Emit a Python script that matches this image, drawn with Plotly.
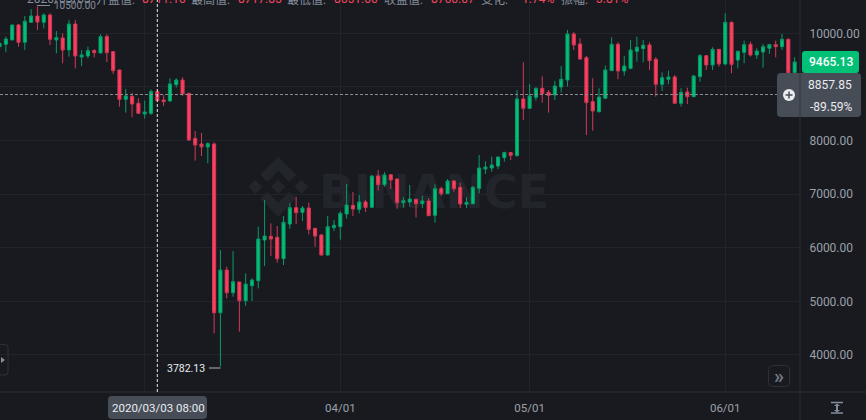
import pandas as pd
import plotly.graph_objects as go

W, H = 866, 420
dates = pd.date_range("2020-02-07", "2020-06-12", freq="D")

opens = [9751,9795,9876,10155,9832,10205,10323,10205,10342,9876,9913,9689,10174,9558,9577,9677,9633,9938,9658,9316,8768,8824,8694,
 8495,8507,8912,8756,8737,9042,9129,8880,8040,7935,7880,7935,4787,5583,5160,5360,5011,5291,5384,6143,6212,6193,5795,6442,6747,6660,6740,6361,6237,5864,6374,
 6392,6629,6790,6716,6852,6753,7338,7176,7362,7282,6840,6852,6902,6821,6871,6604,7101,7008,7244,7126,6809,6821,7107,7468,7487,7524,7680,7773,7717,8775,
 8600,8806,8974,8899,8849,8999,9129,9988,9801,9546,8725,8538,8787,9303,9795,9297,9347,9664,9714,9782,9515,9048,9142,9185,8694,8905,8818,9191,9583,9409,9701,
 9428,10205,9502,9645,9795,9596,9652,9720,9788,9751,9888,9264]
highs = [9830,9938,10160,10174,10323,10448,10500,10373,10373,10044,10000,10249,10249,9689,9751,9701,9981,9981,9670,9320,8961,8893,8787,
 8744,8955,8955,8849,9160,9160,9179,8890,8177,8140,7966,7966,5957,5646,5938,5365,5521,5428,6392,6890,6454,6405,6591,6828,6952,6778,6840,6365,6255,6591,6517,
 6680,7188,7039,6983,6890,7350,7450,7412,7369,7288,6940,7170,6908,6971,6921,7182,7138,7281,7263,7213,6940,7151,7730,7611,7698,7698,7785,7785,8943,9459,
 9055,8992,9198,8943,9111,9390,10062,10025,9907,9577,9160,8974,9397,9925,9832,9577,9876,9938,9876,9832,9552,9272,9303,9223,8974,8986,9223,9614,9596,9739,9707,
 10373,10218,9676,9863,9845,9720,9801,9801,9863,9988,9903,9552]
lows = [9700,9646,9870,9751,9689,10200,10062,10093,9782,9627,9440,9565,9347,9390,9534,9552,9627,9465,9241,8632,8520,8433,8495,
 8408,8476,8725,8644,8725,8986,8831,7990,7624,7711,7574,4402,3782.13,5055,5086,4433,4918,5005,5241,5658,5845,5720,5677,6355,6442,6498,6249,6019,5851,5845,6311,
 6150,6541,6591,6641,6666,6747,7064,7139,7095,6728,6747,6765,6566,6740,6591,6467,6965,7002,7045,6740,6740,6809,7014,7375,7418,7468,7605,7636,7698,8383,
 8600,8744,8706,8520,8756,8893,9005,9689,9502,8103,8184,8520,8775,9303,9142,9210,9328,9471,9459,9316,8818,8924,9048,8694,8632,8681,8806,9098,9316,9316,9378,
 9403,9254,9347,9440,9565,9521,9359,9614,9552,9689,9086,9240]
closes = [9813,9894,10155,9832,10224,10323,10211,10342,9888,9919,9689,10174,9577,9596,9677,9639,9938,9639,9303,8768,8831,8681,8507,
 8532,8912,8744,8725,9055,9129,8868,8010,7916,7882,7941,4787,5583,5160,5366,5011,5322,5397,6162,6218,6162,5795,6473,6747,6653,6740,6342,6218,5864,6392,6417,
 6641,6796,6722,6852,6753,7338,7176,7356,7263,6840,6877,6908,6821,6871,6597,7101,7008,7244,7101,6815,6846,7126,7487,7506,7543,7692,7779,7723,8775,8600,
 8831,8974,8874,8843,9017,9142,9988,9782,9521,8706,8551,8812,9316,9795,9297,9390,9689,9739,9776,9490,9048,9173,9185,8694,8899,8818,9204,9583,9409,9701,9428,
 10205,9421,9664,9788,9596,9670,9751,9788,9751,9888,9264,9465.13]

price_ticks = [4000, 5000, 6000, 7000, 8000, 9000, 10000]
month_ticks = ["2020-03-01", "2020-04-01", "2020-05-01", "2020-06-01"]
month_labels = ["", "04/01", "05/01", "06/01"]
header = [(26, "2020/03/03", "#848e9c"), (95, "开盘值:", "#848e9c"), (141, "8711.10", "#f6465d"),
          (190, "最高值:", "#848e9c"), (237, "8717.85", "#f6465d"), (286, "最低值:", "#848e9c"),
          (333, "8651.00", "#f6465d"), (383, "收盘值:", "#848e9c"), (430, "8760.07", "#f6465d"),
          (480, "变化:", "#848e9c"), (521, "1.74%", "#f6465d"), (560, "振幅:", "#848e9c"), (595, "3.81%", "#f6465d")]

BG, GRID, AXIS = "#181a20", "#21242a", "#2b2f36"
RED, GREEN, TAG = "#ff3f5f", "#02c076", "#474d57"
AXTXT = "#9ca0a8"
PX_W, BOT = 800, 392
DAY = 6.31
t0 = pd.Timestamp("2020-03-01")
x_range = [t0 - pd.Timedelta(days=144.7 / DAY), t0 + pd.Timedelta(days=(PX_W - 144.7) / DAY)]
K = 1000 / 53.6
y_range = [10000 - (BOT - 33.3) * K, 10000 + 33.3 * K]


def X(p):
    return p / W


def Y(p):
    return 1 - p / H


def poly(pts):
    return "M" + " L".join(f"{X(a):.5f},{Y(b):.5f}" for a, b in pts) + " Z"


def rrect(x0, y0, x1, y1, r, fill, line=None, layer="above"):
    xr, yr = r / W, r / H
    a, b, c, d = X(x0), X(x1), Y(y0), Y(y1)
    path = (f"M{a+xr},{c} L{b-xr},{c} Q{b},{c} {b},{c-yr} L{b},{d+yr} Q{b},{d} {b-xr},{d} "
            f"L{a+xr},{d} Q{a},{d} {a},{d+yr} L{a},{c-yr} Q{a},{c} {a+xr},{c} Z")
    return dict(type="path", xref="paper", yref="paper", path=path, fillcolor=fill,
                line=dict(color=line or fill, width=1 if line else 0), layer=layer)


def seg(x0, y0, x1, y1, color, width=1, dash="solid", layer="above"):
    return dict(type="line", xref="paper", yref="paper", x0=X(x0), y0=Y(y0), x1=X(x1), y1=Y(y1),
                line=dict(color=color, width=width, dash=dash), layer=layer)


def note(x, y, text, color, size=12, anchor="left", family="Roboto, sans-serif", weight=400):
    return dict(xref="paper", yref="paper", x=X(x), y=Y(y), text=text, showarrow=False, xanchor=anchor,
                yanchor="middle", borderpad=0, font=dict(color=color, size=size, family=family, weight=weight))


shapes = []
WM = "#22252b"
cx, cy = 278.3, 186.7
for sign in (1, -1):
    shapes.append(dict(type="path", xref="paper", yref="paper", layer="below", fillcolor=WM, line=dict(width=0),
                       path=poly([(cx + a, cy + sign * b) for a, b in
                                  [(0, -30), (18, -12), (11, -5), (0, -16), (-11, -5), (-18, -12)]])))
for dx in (-23, 0, 23):
    shapes.append(dict(type="path", xref="paper", yref="paper", layer="below", fillcolor=WM, line=dict(width=0),
                       path=poly([(cx + dx, cy - 7), (cx + dx + 7, cy), (cx + dx, cy + 7), (cx + dx - 7, cy)])))
shapes.append(dict(type="rect", xref="paper", yref="paper", layer="below", x0=X(318), x1=X(550), y0=Y(212), y1=Y(165),
                   fillcolor="rgba(0,0,0,0)", line=dict(width=0),
                   label=dict(text="BINANCE", textposition="middle center",
                              font=dict(size=46, color=WM, family="DejaVu Sans, sans-serif", weight=700))))

shapes += [seg(0, BOT, W, BOT, AXIS), seg(PX_W, 0, PX_W, H, AXIS)]

shapes.append(dict(type="line", xref="paper", yref="y", x0=0, x1=X(778), y0=8857.85, y1=8857.85,
                   line=dict(color="#8b8e94", width=1, dash="3px,2px"), layer="above"))
shapes.append(dict(type="line", xref="x", yref="paper", x0="2020-03-03", x1="2020-03-03", y0=Y(BOT), y1=1,
                   line=dict(color="#e6e6e6", width=1, dash="3px,2px"), layer="above"))

shapes += [seg(37, 5.5, 50, 5.5, "#848e9c"), seg(209, 368, 220.5, 368, "#aeb4bc")]

shapes.append(rrect(802, 51, 859, 73, 3, GREEN))
shapes.append(rrect(777, 73, 861, 117, 4, TAG))
shapes.append(seg(PX_W, 73, PX_W, 117, "#33373e"))
shapes.append(dict(type="circle", xref="paper", yref="paper", x0=X(783), x1=X(795), y0=Y(101), y1=Y(89),
                   fillcolor="#eaecef", line=dict(width=0), layer="above"))
shapes += [seg(785.5, 95, 792.5, 95, TAG, 1.5), seg(789, 91.5, 789, 98.5, TAG, 1.5)]

shapes.append(rrect(108, 396, 207, 419, 4, TAG))

shapes.append(rrect(768.5, 365.5, 789.5, 386.5, 4, "rgba(0,0,0,0)", "#2b3139"))
shapes.append(rrect(-6, 344.5, 8, 375, 3, "rgba(0,0,0,0)", "#2b3139"))
shapes.append(dict(type="path", xref="paper", yref="paper", layer="above", fillcolor="#848e9c", line=dict(width=0),
                   path=poly([(1, 357), (5, 360), (1, 363)])))
shapes += [seg(831, 402.5, 843, 402.5, "#848e9c", 1.5), seg(831, 413, 843, 413, "#848e9c", 1.5),
           seg(837, 405, 837, 411, "#848e9c", 2)]
for tri in ([(834, 406), (837, 403.5), (840, 406)], [(834, 410), (837, 412.5), (840, 410)]):
    shapes.append(dict(type="path", xref="paper", yref="paper", layer="above", fillcolor="#848e9c",
                       line=dict(width=0), path=poly(tri)))

annotations = [note(px, -1, t, c, 12, family="Roboto, 'Noto Sans CJK SC', sans-serif") for px, t, c in header]
annotations += [
    note(53, 6, "10500.00", "#848e9c", 10),
    note(206, 368, "3782.13", "#eaecef", 10.5, anchor="right"),
    note(830.5, 62, "9465.13", "#ffffff", 12, anchor="center", weight=500),
    note(830, 85, "8857.85", "#eaecef", 12, anchor="center"),
    note(831, 107, "-89.59%", "#eaecef", 12, anchor="center"),
    note(158.5, 408, "2020/03/03 08:00", "#eaecef", 11.5, anchor="center"),
    note(779, 375.5, "»", "#6f7783", 20, anchor="center", weight=700),
]

fig = go.Figure(go.Candlestick(
    x=dates, open=opens, high=highs, low=lows, close=closes, whiskerwidth=0,
    increasing=dict(line=dict(color="#0a9a68", width=1), fillcolor=GREEN),
    decreasing=dict(line=dict(color="#d13a55", width=1), fillcolor=RED),
    hoverinfo="skip"))

fig.update_layout(
    width=W, height=H, margin=dict(l=0, r=0, t=0, b=0, pad=0), autosize=False,
    paper_bgcolor=BG, plot_bgcolor=BG, showlegend=False, boxgap=0.3,
    font=dict(family="Roboto, sans-serif", color="#848e9c", size=12),
    shapes=shapes, annotations=annotations,
    xaxis=dict(domain=[0, PX_W / W], range=x_range, type="date", rangeslider=dict(visible=False),
               tickmode="array", tickvals=month_ticks, ticktext=month_labels, showgrid=True, gridcolor=GRID,
               gridwidth=1, zeroline=False, showline=False, ticks="outside", ticklen=5, tickcolor=BG,
               tickfont=dict(size=11.5, color=AXTXT), fixedrange=True),
    yaxis=dict(domain=[(H - BOT) / H, 1], range=y_range, side="right", tickmode="array", tickvals=price_ticks,
               tickformat=".2f", showgrid=True, gridcolor=GRID, gridwidth=1, zeroline=False, showline=False,
               ticks="outside", ticklen=6, tickcolor=BG, tickfont=dict(size=12, color=AXTXT), fixedrange=True),
)
fig.write_html("out.html", config=dict(displayModeBar=False),
               post_script="document.documentElement.style.background='#181a20';document.body.style.margin='0';document.body.style.overflow='hidden';")
